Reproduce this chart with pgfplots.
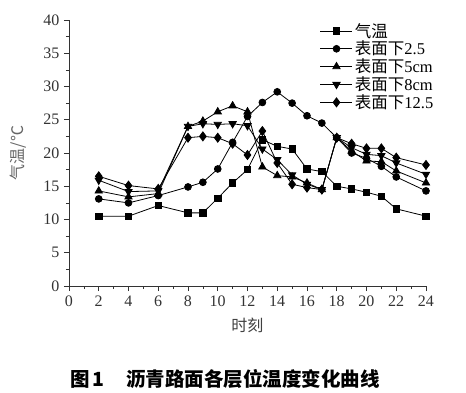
\documentclass[border=0pt]{standalone}
\usepackage{fontspec}
\setmainfont{Liberation Serif}
\newfontfamily\cjk{Noto Sans CJK SC}
\usepackage{pgfplots}
\pgfplotsset{compat=1.18}
\begin{document}
\begin{tikzpicture}
\useasboundingbox (-69pt,-106pt) rectangle (397pt,286pt);
\begin{axis}[
  scale only axis, width=357pt, height=266pt,
  anchor=south west, at={(0pt,0pt)},
  xmin=0, xmax=24, ymin=0, ymax=40,
  axis lines*=left,
  axis line style={line width=0.8pt, black!80},
  xtick={0,2,...,24}, ytick={0,5,...,40},
  minor x tick num=1, minor y tick num=1,
  tick align=outside, tick pos=left,
  major tick length=5pt, minor tick length=3pt,
  tick style={line width=0.7pt, black!80},
  /pgf/number format/assume math mode=true,
  ticklabel style={font=\fontsize{16}{18}\selectfont, text=black!80},
  xticklabel style={yshift=-1pt},
  yticklabel style={xshift=-1pt},
  xlabel={\cjk 时刻}, ylabel={\cjk 气温/℃},
  label style={font=\fontsize{16}{18}\selectfont},
  xlabel style={yshift=-5pt, text=black!75},
  ylabel style={yshift=10pt, text=black!60},
  every axis plot/.append style={black, line width=0.8pt, mark options={solid, fill=black}},
  legend style={draw=none, fill=none, at={(rel axis cs:0.70,1.0)}, anchor=north west,
    font=\fontsize{16.5}{17}\selectfont, row sep=-1.5pt, inner sep=1pt},
  legend cell align=left,
  legend image code/.code={\draw[mark repeat=2,mark phase=2] plot coordinates {(0pt,0pt)(16pt,0pt)(32pt,0pt)};},
  clip=false,
]
\addplot[mark=square*, mark size=3.2pt] coordinates {
(2,10.5)(4,10.5)(6,12.1)(8,11.0)(9,11.0)(10,13.2)(11,15.5)(12,17.5)(13,22.0)(14,21.0)(15,20.6)(16,17.6)(17,17.2)(18,15.0)(19,14.6)(20,14.1)(21,13.5)(22,11.6)(24,10.5)};
\addlegendentry{\cjk 气温}
\addplot[mark=*, mark size=3.4pt] coordinates {
(2,13.1)(4,12.5)(6,13.6)(8,14.9)(9,15.6)(10,17.6)(11,21.6)(12,25.5)(13,27.6)(14,29.2)(15,27.5)(16,25.6)(17,24.5)(18,22.3)(19,20.0)(20,19.2)(21,18.0)(22,16.4)(24,14.3)};
\addlegendentry{{\cjk 表面下}2.5}
\addplot[mark=triangle*, mark size=4.2pt] coordinates {
(2,14.3)(4,13.4)(6,13.9)(8,24.0)(9,24.8)(10,26.2)(11,27.1)(12,26.2)(13,17.9)(14,16.6)(15,16.4)(16,15.5)(17,14.5)(18,22.3)(19,20.3)(20,18.8)(21,18.7)(22,17.3)(24,15.5)};
\addlegendentry{{\cjk 表面下}5cm}
\addplot[mark=triangle*, mark size=4.2pt, mark options={rotate=180}] coordinates {
(2,15.9)(4,14.2)(6,14.3)(8,24.0)(9,24.4)(10,24.3)(11,24.4)(12,24.1)(13,20.6)(14,19.0)(15,16.7)(16,15.3)(17,14.5)(18,22.3)(19,20.8)(20,19.8)(21,19.6)(22,18.5)(24,16.8)};
\addlegendentry{{\cjk 表面下}8cm}
\addplot[mark=diamond*, mark size=4.5pt] coordinates {
(2,16.5)(4,15.1)(6,14.6)(8,22.3)(9,22.5)(10,22.3)(11,21.4)(12,19.7)(13,23.3)(14,18.5)(15,15.3)(16,14.8)(17,14.5)(18,22.3)(19,21.4)(20,20.7)(21,20.7)(22,19.3)(24,18.2)};
\addlegendentry{{\cjk 表面下}12.5}
\end{axis}
\node[font=\cjk\bfseries\fontsize{19.5}{21}\selectfont, anchor=center] at (156pt,-93pt) {图\,1\hspace{1.1em}沥青路面各层位温度变化曲线};
\end{tikzpicture}
\end{document}
